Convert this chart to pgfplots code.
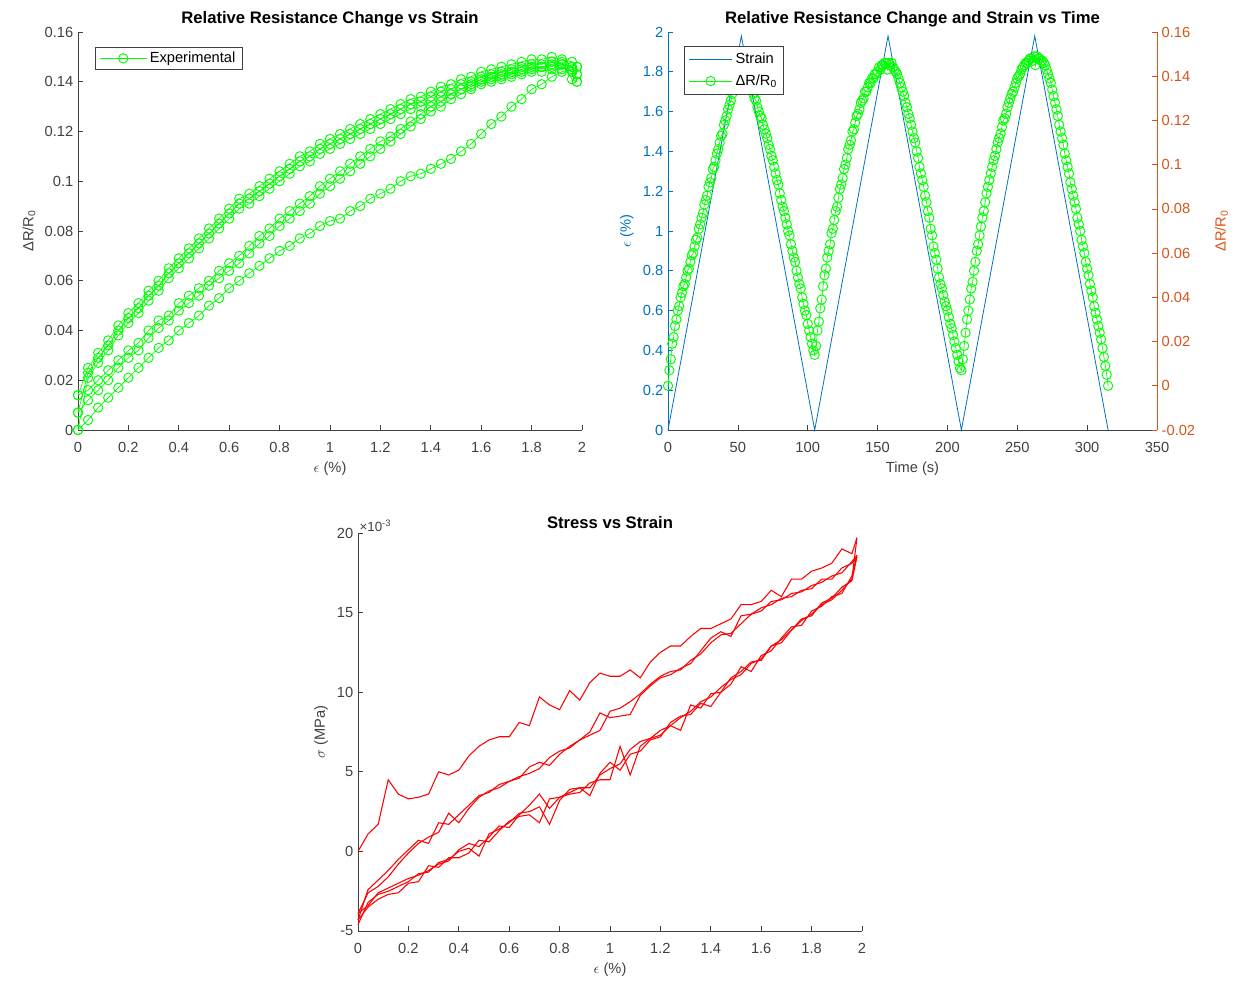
\documentclass[border=0pt]{standalone}
\usepackage{fontspec}
\setmainfont{Liberation Sans}
\usepackage{pgfplots}
\usepackage{pgfplotstable}
\pgfplotsset{compat=1.18}

\definecolor{mgreen}{RGB}{0,255,0}
\definecolor{mblue}{RGB}{0,114,189}
\definecolor{morange}{RGB}{217,83,25}
\definecolor{maxis}{RGB}{64,64,64}
\definecolor{mred}{RGB}{255,0,0}

\newcommand\tickfont{\fontsize{11}{12.5}\selectfont}
\newcommand\titlefont{\bfseries\fontsize{12.5}{14}\selectfont}

\pgfplotsset{
  mstyle/.style={
    scale only axis,
    clip=false,
    axis x line*=bottom,
    axis y line*=left,
    axis line style={-, draw=maxis, line width=0.6pt},
    every outer x axis line/.append style={-},
    every outer y axis line/.append style={-},
    tick align=inside,
    major tick length=4pt,
    tick style={draw=maxis, line width=0.5pt},
    ticklabel style={font=\tickfont, text=maxis},
    xticklabel style={yshift=-5.5pt},
    label style={font=\tickfont, text=maxis},
    title style={font=\titlefont, text=black, yshift=-6pt},
    scaled x ticks=false, scaled y ticks=false,
    /pgf/number format/assume math mode=true,
    /pgf/number format/fixed,
    /pgf/number format/precision=2,
    legend cell align=left,
    legend style={draw=maxis, fill=white, font=\tickfont, inner xsep=3pt, inner ysep=1.5pt},
  },
  greenmark/.style={mgreen, line width=0.5pt, mark=o, mark size=3.5pt, mark options={solid, line width=0.7pt}},
  redline/.style={mred, line width=0.8pt},
}

% Top-left: Delta R / R0 versus strain, one column per loading / unloading branch
\pgfplotstableread{
e L1 U1 M1 U2 M2 U3
0.00 0.000 0.014 0.014 0.007 0.007 0.000
0.04 0.004 0.025 0.016 0.023 0.012 0.021
0.08 0.009 0.031 0.020 0.029 0.016 0.027
0.12 0.013 0.036 0.024 0.034 0.020 0.032
0.16 0.017 0.042 0.028 0.040 0.025 0.038
0.20 0.021 0.047 0.032 0.045 0.029 0.043
0.24 0.025 0.051 0.035 0.049 0.032 0.047
0.28 0.029 0.056 0.040 0.054 0.037 0.052
0.32 0.033 0.060 0.044 0.058 0.041 0.056
0.36 0.036 0.065 0.046 0.063 0.044 0.061
0.40 0.040 0.069 0.051 0.067 0.048 0.065
0.44 0.043 0.073 0.054 0.071 0.051 0.069
0.48 0.046 0.077 0.057 0.075 0.054 0.073
0.52 0.050 0.081 0.060 0.079 0.058 0.077
0.56 0.053 0.085 0.064 0.083 0.061 0.081
0.60 0.057 0.089 0.067 0.087 0.064 0.085
0.64 0.060 0.093 0.070 0.091 0.067 0.089
0.68 0.063 0.095 0.074 0.093 0.071 0.091
0.72 0.066 0.098 0.078 0.096 0.075 0.094
0.76 0.069 0.101 0.081 0.099 0.078 0.097
0.80 0.072 0.104 0.085 0.102 0.082 0.100
0.84 0.074 0.107 0.088 0.105 0.085 0.103
0.88 0.077 0.110 0.091 0.108 0.088 0.106
0.92 0.079 0.112 0.094 0.110 0.091 0.108
0.96 0.082 0.115 0.098 0.113 0.095 0.111
1.00 0.084 0.117 0.101 0.115 0.098 0.113
1.04 0.085 0.119 0.104 0.117 0.101 0.115
1.08 0.088 0.121 0.107 0.119 0.104 0.117
1.12 0.090 0.123 0.110 0.121 0.107 0.119
1.16 0.093 0.125 0.113 0.123 0.110 0.121
1.20 0.095 0.127 0.116 0.125 0.113 0.123
1.24 0.097 0.129 0.118 0.127 0.116 0.125
1.28 0.100 0.131 0.121 0.129 0.119 0.127
1.32 0.102 0.133 0.124 0.131 0.122 0.129
1.36 0.103 0.134 0.127 0.132 0.125 0.130
1.40 0.105 0.136 0.130 0.134 0.128 0.132
1.44 0.107 0.138 0.132 0.136 0.130 0.134
1.48 0.109 0.139 0.135 0.137 0.133 0.135
1.52 0.112 0.141 0.137 0.139 0.135 0.137
1.56 0.115 0.142 0.139 0.140 0.137 0.138
1.60 0.119 0.144 0.141 0.142 0.139 0.140
1.64 0.123 0.145 0.142 0.143 0.140 0.141
1.68 0.126 0.146 0.143 0.144 0.141 0.142
1.72 0.130 0.147 0.144 0.145 0.142 0.143
1.76 0.133 0.148 0.145 0.146 0.143 0.144
1.80 0.137 0.149 0.146 0.147 0.144 0.145
1.84 0.139 0.149 0.146 0.147 0.144 0.146
1.88 0.142 0.150 0.147 0.148 0.145 0.146
1.92 0.144 0.149 0.147 0.147 0.145 0.148
1.96 0.145 0.148 0.146 0.144 0.146 0.141
1.98 0.146 0.146 0.143 0.143 0.140 0.140
}\strdata

% Top-right: Delta R / R0 versus time (s)
\pgfplotstableread[row sep=\\]{
t d\\
0 0.000\\ 1 0.007\\ 2 0.012\\ 3 0.019\\ 4 0.022\\ 5 0.027\\ 6 0.030\\ 7 0.034\\ 8 0.036\\ 9 0.040\\
10 0.042\\ 11 0.045\\ 12 0.046\\ 13 0.049\\ 14 0.052\\ 15 0.053\\ 16 0.056\\ 17 0.059\\ 18 0.060\\ 19 0.063\\
20 0.066\\ 21 0.067\\ 22 0.071\\ 23 0.073\\ 24 0.076\\ 25 0.078\\ 26 0.082\\ 27 0.084\\ 28 0.086\\ 29 0.090\\
30 0.092\\ 31 0.094\\ 32 0.098\\ 33 0.099\\ 34 0.102\\ 35 0.105\\ 36 0.107\\ 37 0.110\\ 38 0.113\\ 39 0.114\\
40 0.118\\ 41 0.120\\ 42 0.122\\ 43 0.125\\ 44 0.127\\ 45 0.129\\ 46 0.132\\ 47 0.134\\ 48 0.136\\ 49 0.139\\
50 0.140\\ 51 0.142\\ 52 0.144\\ 53 0.143\\ 54 0.145\\ 55 0.143\\ 56 0.142\\ 57 0.140\\ 58 0.138\\ 59 0.136\\
60 0.135\\ 61 0.132\\ 62 0.130\\ 63 0.129\\ 64 0.126\\ 65 0.124\\ 66 0.122\\ 67 0.121\\ 68 0.118\\ 69 0.116\\
70 0.114\\ 71 0.112\\ 72 0.109\\ 73 0.107\\ 74 0.104\\ 75 0.102\\ 76 0.099\\ 77 0.096\\ 78 0.093\\ 79 0.091\\
80 0.087\\ 81 0.084\\ 82 0.081\\ 83 0.079\\ 84 0.076\\ 85 0.073\\ 86 0.070\\ 87 0.068\\ 88 0.064\\ 89 0.061\\
90 0.058\\ 91 0.056\\ 92 0.052\\ 93 0.049\\ 94 0.046\\ 95 0.044\\ 96 0.040\\ 97 0.037\\ 98 0.034\\ 99 0.032\\
100 0.028\\ 101 0.025\\ 102 0.022\\ 103 0.019\\ 104 0.016\\ 105 0.014\\ 106 0.018\\ 107 0.025\\ 108 0.029\\ 109 0.035\\
110 0.039\\ 111 0.045\\ 112 0.050\\ 113 0.053\\ 114 0.058\\ 115 0.061\\ 116 0.064\\ 117 0.069\\ 118 0.071\\ 119 0.075\\
120 0.079\\ 121 0.081\\ 122 0.085\\ 123 0.089\\ 124 0.091\\ 125 0.094\\ 126 0.098\\ 127 0.100\\ 128 0.103\\ 129 0.107\\
130 0.109\\ 131 0.111\\ 132 0.115\\ 133 0.116\\ 134 0.119\\ 135 0.122\\ 136 0.123\\ 137 0.125\\ 138 0.128\\ 139 0.129\\
140 0.130\\ 141 0.133\\ 142 0.133\\ 143 0.135\\ 144 0.137\\ 145 0.137\\ 146 0.139\\ 147 0.139\\ 148 0.141\\ 149 0.141\\
150 0.142\\ 151 0.144\\ 152 0.143\\ 153 0.145\\ 154 0.145\\ 155 0.146\\ 156 0.146\\ 157 0.143\\ 158 0.146\\ 159 0.145\\
160 0.146\\ 161 0.144\\ 162 0.143\\ 163 0.142\\ 164 0.141\\ 165 0.139\\ 166 0.137\\ 167 0.135\\ 168 0.133\\ 169 0.131\\
170 0.128\\ 171 0.126\\ 172 0.123\\ 173 0.121\\ 174 0.118\\ 175 0.115\\ 176 0.112\\ 177 0.110\\ 178 0.106\\ 179 0.103\\
180 0.099\\ 181 0.096\\ 182 0.093\\ 183 0.090\\ 184 0.086\\ 185 0.083\\ 186 0.079\\ 187 0.076\\ 188 0.071\\ 189 0.068\\
190 0.063\\ 191 0.060\\ 192 0.057\\ 193 0.053\\ 194 0.049\\ 195 0.046\\ 196 0.044\\ 197 0.041\\ 198 0.038\\ 199 0.036\\
200 0.034\\ 201 0.031\\ 202 0.028\\ 203 0.026\\ 204 0.023\\ 205 0.020\\ 206 0.017\\ 207 0.014\\ 208 0.011\\ 209 0.008\\
210 0.007\\ 211 0.012\\ 212 0.018\\ 213 0.024\\ 214 0.030\\ 215 0.034\\ 216 0.039\\ 217 0.044\\ 218 0.047\\ 219 0.052\\
220 0.056\\ 221 0.061\\ 222 0.064\\ 223 0.068\\ 224 0.072\\ 225 0.076\\ 226 0.079\\ 227 0.083\\ 228 0.087\\ 229 0.090\\
230 0.093\\ 231 0.096\\ 232 0.099\\ 233 0.102\\ 234 0.104\\ 235 0.107\\ 236 0.110\\ 237 0.112\\ 238 0.114\\ 239 0.117\\
240 0.120\\ 241 0.121\\ 242 0.123\\ 243 0.126\\ 244 0.128\\ 245 0.130\\ 246 0.132\\ 247 0.133\\ 248 0.135\\ 249 0.137\\
250 0.139\\ 251 0.140\\ 252 0.141\\ 253 0.143\\ 254 0.144\\ 255 0.145\\ 256 0.146\\ 257 0.146\\ 258 0.147\\ 259 0.148\\
260 0.148\\ 261 0.147\\ 262 0.149\\ 263 0.145\\ 264 0.149\\ 265 0.148\\ 266 0.148\\ 267 0.147\\ 268 0.147\\ 269 0.146\\
270 0.145\\ 271 0.143\\ 272 0.141\\ 273 0.139\\ 274 0.137\\ 275 0.134\\ 276 0.131\\ 277 0.128\\ 278 0.125\\ 279 0.122\\
280 0.118\\ 281 0.115\\ 282 0.112\\ 283 0.109\\ 284 0.105\\ 285 0.102\\ 286 0.099\\ 287 0.096\\ 288 0.092\\ 289 0.089\\
290 0.086\\ 291 0.083\\ 292 0.080\\ 293 0.076\\ 294 0.073\\ 295 0.070\\ 296 0.066\\ 297 0.063\\ 298 0.060\\ 299 0.056\\
300 0.053\\ 301 0.050\\ 302 0.046\\ 303 0.043\\ 304 0.040\\ 305 0.036\\ 306 0.033\\ 307 0.030\\ 308 0.027\\ 309 0.024\\
310 0.021\\ 311 0.017\\ 312 0.013\\ 313 0.009\\ 314 0.005\\ 315 0.000\\
}\timedata

% Bottom: stress (x 10^-3 MPa) versus strain, one column per branch
\pgfplotstableread{
e A B C D E F
0.00 0.0 -3.9 -3.9 -4.3 -4.3 -4.6
0.04 1.1 -3.4 -2.6 -3.5 -2.4 -3.2
0.08 1.7 -2.6 -2.2 -3.0 -1.8 -2.7
0.12 4.5 -2.3 -1.6 -2.7 -1.2 -2.5
0.16 3.6 -2.0 -0.8 -2.6 -0.5 -2.2
0.20 3.3 -1.7 -0.1 -2.0 0.1 -1.9
0.24 3.4 -1.5 0.5 -1.9 0.7 -1.4
0.28 3.6 -1.2 0.9 -0.9 0.5 -1.3
0.32 5.0 -0.8 1.2 -1.0 1.8 -0.7
0.36 4.8 -0.6 2.4 -0.4 1.7 -0.5
0.40 5.1 0.1 1.8 -0.4 2.3 0.0
0.44 6.0 0.5 2.7 -0.1 2.9 0.2
0.48 6.6 0.3 3.4 0.7 3.5 -0.3
0.52 7.0 0.9 3.8 0.6 3.7 1.1
0.56 7.2 1.6 4.0 1.3 4.2 1.4
0.60 7.2 1.5 4.4 1.9 4.4 1.8
0.64 8.1 2.3 4.6 2.2 4.7 2.4
0.68 7.9 2.9 5.3 2.3 4.9 2.5
0.72 9.7 3.6 5.6 1.8 5.2 2.8
0.76 9.2 2.7 5.4 3.3 5.9 1.7
0.80 8.9 3.4 6.1 3.4 6.3 3.2
0.84 10.1 3.7 6.6 3.6 6.5 3.9
0.88 9.5 4.0 7.0 3.7 7.0 4.0
0.92 10.6 4.0 7.5 4.3 7.3 3.5
0.96 11.2 4.8 8.7 4.5 7.6 4.9
1.00 11.0 5.2 8.4 4.5 8.8 5.6
1.04 11.0 5.5 8.5 6.6 9.0 5.1
1.08 11.4 6.4 8.6 4.8 9.4 6.1
1.12 10.9 6.9 9.8 6.6 9.9 6.3
1.16 11.9 7.1 10.4 7.1 10.5 7.0
1.20 12.5 7.3 10.9 7.6 11.0 7.2
1.24 12.9 7.9 11.1 7.9 11.3 8.1
1.28 12.9 8.4 11.5 7.6 11.4 8.5
1.32 13.5 8.8 11.8 9.2 12.0 8.6
1.36 14.0 9.4 12.6 9.0 12.4 9.3
1.40 14.0 9.7 13.4 9.9 13.1 9.1
1.44 14.3 10.3 13.8 10.0 13.6 10.0
1.48 14.6 10.8 13.5 10.5 13.7 10.9
1.52 15.5 11.1 14.8 11.6 14.3 11.3
1.56 15.5 11.8 14.9 11.3 14.9 11.9
1.60 15.7 12.1 15.1 12.3 15.3 12.0
1.64 16.4 12.9 15.7 12.6 15.5 12.9
1.68 16.0 13.3 15.8 13.4 15.9 13.1
1.72 17.1 13.9 16.2 14.1 16.0 13.9
1.76 17.1 14.5 16.3 14.2 16.4 14.6
1.80 17.6 14.9 16.7 15.1 16.5 14.8
1.84 17.8 15.5 16.9 15.4 17.1 15.6
1.88 18.1 15.8 17.3 16.0 17.1 15.9
1.92 19.0 16.4 17.5 16.2 17.8 16.6
1.96 18.7 17.1 18.2 17.3 18.1 17.0
1.98 19.7 19.7 18.6 18.6 18.5 18.5
}\stressdata

\begin{document}
\begin{tikzpicture}
\useasboundingbox (0,0) rectangle (929.25pt,737.25pt);

% ---------- top left ----------
\begin{axis}[mstyle,
  at={(58.5pt,414.75pt)}, anchor=south west,
  width=378pt, height=298.5pt,
  xmin=0, xmax=2, ymin=0, ymax=0.16,
  xtick={0,0.2,0.4,0.6,0.8,1,1.2,1.4,1.6,1.8,2},
  ytick={0,0.02,0.04,0.06,0.08,0.1,0.12,0.14,0.16},
  title={Relative Resistance Change vs Strain},
  xlabel={$\epsilon$ (\%)},
  ylabel={ΔR/R\textsubscript{0}},
  legend image code/.code={\draw[mark repeat=2,mark phase=2,#1] plot coordinates {(0cm,0cm) (0.62cm,0cm) (1.24cm,0cm)};},
  legend style={at={(0.034,0.962)}, anchor=north west},
]
\addplot[greenmark] table[x=e,y=L1] {\strdata};
\addlegendentry{Experimental}
\addplot[greenmark, forget plot] table[x=e,y=U1] {\strdata};
\addplot[greenmark, forget plot] table[x=e,y=M1] {\strdata};
\addplot[greenmark, forget plot] table[x=e,y=U2] {\strdata};
\addplot[greenmark, forget plot] table[x=e,y=M2] {\strdata};
\addplot[greenmark, forget plot] table[x=e,y=U3] {\strdata};
\end{axis}

% ---------- top right: strain (left axis) ----------
\begin{axis}[mstyle,
  at={(501pt,414.75pt)}, anchor=south west,
  width=366.75pt, height=298.5pt,
  xmin=0, xmax=350, ymin=0, ymax=2,
  xtick={0,50,100,150,200,250,300,350},
  ytick={0,0.2,0.4,0.6,0.8,1,1.2,1.4,1.6,1.8,2},
  title={Relative Resistance Change and Strain vs Time},
  xlabel={Time (s)},
  ylabel={$\epsilon$ (\%)},
  y axis line style={draw=mblue},
  ytick style={draw=mblue},
  yticklabel style={text=mblue},
  ylabel style={text=mblue},
]
\addplot[mblue, line width=0.6pt] coordinates {(0,0) (52.5,1.98) (105,0) (157.5,1.98) (210,0) (262.5,1.98) (315,0)};
\end{axis}

% ---------- top right: Delta R/R0 (right axis) ----------
\begin{axis}[mstyle,
  at={(501pt,414.75pt)}, anchor=south west,
  width=366.75pt, height=298.5pt,
  xmin=0, xmax=350, ymin=-0.02, ymax=0.16,
  axis x line=none,
  axis y line*=right,
  ytick={-0.02,0,0.02,0.04,0.06,0.08,0.1,0.12,0.14,0.16},
  ylabel={ΔR/R\textsubscript{0}},
  y axis line style={draw=morange},
  ytick style={draw=morange},
  yticklabel style={text=morange},
  ylabel style={text=morange, yshift=-8pt},
  legend image code/.code={\draw[mark repeat=2,mark phase=2,#1] plot coordinates {(0cm,0cm) (0.575cm,0cm) (1.15cm,0cm)};},
  legend style={at={(0.033,0.965)}, anchor=north west, inner ysep=3pt, row sep=3pt},
]
\addlegendimage{mblue, line width=0.6pt}
\addlegendentry{Strain}
\addplot[greenmark] table[x=t,y=d] {\timedata};
\addlegendentry{ΔR/R\textsubscript{0}}
\end{axis}

% ---------- bottom ----------
\begin{axis}[mstyle,
  at={(268.5pt,39pt)}, anchor=south west,
  width=378pt, height=298.5pt,
  xmin=0, xmax=2, ymin=-5, ymax=20,
  xtick={0,0.2,0.4,0.6,0.8,1,1.2,1.4,1.6,1.8,2},
  ytick={-5,0,5,10,15,20},
  title={Stress vs Strain},
  xlabel={$\epsilon$ (\%)},
  ylabel={$\sigma$ (MPa)},
]
\addplot[redline] table[x=e,y=A] {\stressdata};
\addplot[redline] table[x=e,y=B] {\stressdata};
\addplot[redline] table[x=e,y=C] {\stressdata};
\addplot[redline] table[x=e,y=D] {\stressdata};
\addplot[redline] table[x=e,y=E] {\stressdata};
\addplot[redline] table[x=e,y=F] {\stressdata};
\node[anchor=south west, inner sep=1pt, font=\fontsize{10}{11}\selectfont, text=maxis] at (rel axis cs:0,1) {×10\textsuperscript{-3}};
\end{axis}
\end{tikzpicture}
\end{document}
